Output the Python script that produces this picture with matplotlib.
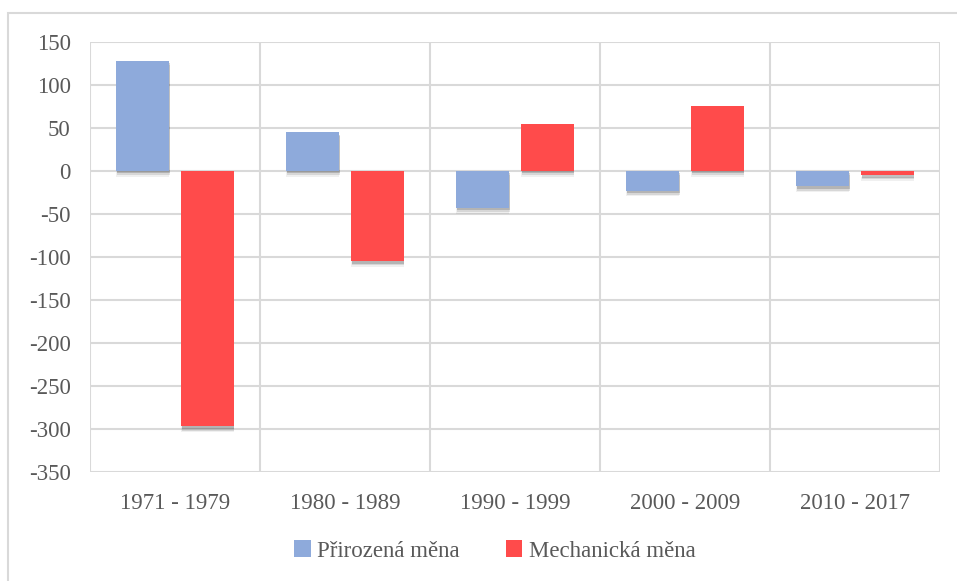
import numpy as np
import matplotlib
matplotlib.use('Agg')
import matplotlib.pyplot as plt
import matplotlib.patheffects as pe
from matplotlib.patches import Rectangle

# Data
periods = ['1971 - 1979', '1980 - 1989', '1990 - 1999', '2000 - 2009', '2010 - 2017']
prirozena = [128, 45, -43, -23, -18]
mechanicka = [-297, -105, 55, 75, -5]
series_names = ['Přirozená měna', 'Mechanická měna']
yticks = list(range(-350, 151, 50))

blue = '#8eaadb'
red = '#ff4b4b'
grid_c = '#d9d9d9'
text_c = '#595959'

W, H = 957, 581
fig = plt.figure(figsize=(W / 100, H / 100), dpi=100)
ax = fig.add_axes([90 / W, 1 - 472 / H, 850 / W, 430 / H])

# outer chart border (only top and left visible)
fig.patches.append(Rectangle((8 / W, -0.1), 1.2, 1 - 13 / H + 0.1,
                             transform=fig.transFigure, fill=False,
                             edgecolor=grid_c, linewidth=1.5))

x = np.arange(len(periods))
width = 0.31
offset = 0.19

shadow = [pe.SimplePatchShadow(offset=(0, -4), shadow_rgbFace='k', alpha=0.06),
          pe.SimplePatchShadow(offset=(0.5, -3), shadow_rgbFace='k', alpha=0.10),
          pe.SimplePatchShadow(offset=(0.5, -1.8), shadow_rgbFace='k', alpha=0.16),
          pe.Normal()]

b1 = ax.bar(x - offset, prirozena, width, color=blue, label=series_names[0], zorder=3)
b2 = ax.bar(x + offset, mechanicka, width, color=red, label=series_names[1], zorder=3)
for p in list(b1) + list(b2):
    p.set_path_effects(shadow)

ax.set_xlim(-0.5, len(periods) - 0.5)
ax.set_ylim(-350, 150)
ax.set_yticks(yticks)
ax.set_yticklabels([str(v) for v in yticks])
ax.set_xticks(x)
ax.set_xticklabels(periods)

# grid: horizontal at ticks, vertical at category boundaries
for v in yticks:
    ax.axhline(v, color=grid_c, linewidth=1.5, zorder=1)
for b in np.arange(-0.5, len(periods), 1.0):
    ax.axvline(b, color=grid_c, linewidth=1.5, zorder=1)

for s in ax.spines.values():
    s.set_visible(False)

ax.tick_params(axis='both', length=0, labelsize=16.5, labelcolor=text_c)
ax.tick_params(axis='y', pad=14)
ax.tick_params(axis='x', pad=15)
for lab in ax.get_xticklabels() + ax.get_yticklabels():
    lab.set_fontfamily('Liberation Serif')

leg = fig.legend(handles=[b1, b2], labels=series_names, loc='center',
                 bbox_to_anchor=(495 / W, 1 - 551 / H), ncol=2, frameon=False,
                 prop={'family': 'Liberation Serif', 'size': 16.5},
                 handlelength=0.7, handleheight=0.7, handletextpad=0.3,
                 columnspacing=2.0, labelcolor=text_c)
for h in leg.legend_handles:
    h.set_path_effects([])

fig.savefig('out.png', dpi=100)
